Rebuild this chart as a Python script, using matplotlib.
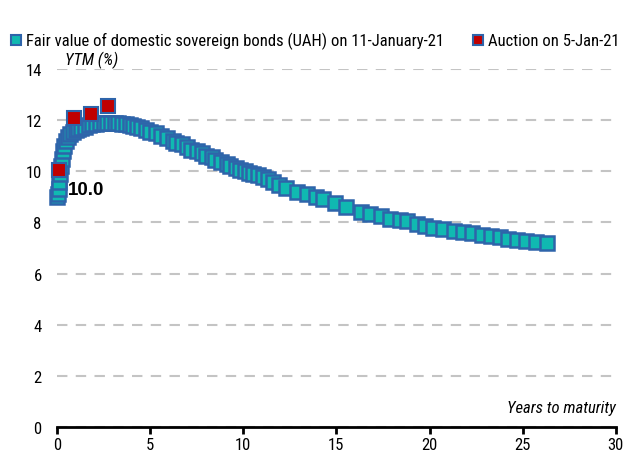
import matplotlib.pyplot as plt
from matplotlib.lines import Line2D

# fair value curve (years to maturity, YTM %)
fair_x = [0.02, 0.05, 0.08, 0.12, 0.16, 0.2, 0.25, 0.3, 0.4, 0.5, 0.6, 0.7, 0.85, 1.0,
          1.15, 1.3, 1.5, 1.7, 1.9, 2.1, 2.3, 2.5, 2.7, 2.9, 3.1, 3.3, 3.5, 3.7, 3.9,
          4.1, 4.3, 4.5, 4.8, 5.0, 5.3, 5.6, 5.9, 6.2, 6.4, 6.7, 7.0, 7.2, 7.5, 7.8,
          8.0, 8.3, 8.5, 8.8, 9.1, 9.3, 9.6, 9.8, 10.1, 10.3, 10.5, 10.8, 11.05, 11.3,
          11.6, 11.9, 12.3, 12.9, 13.4, 13.9, 14.3, 14.9, 15.5, 16.3, 16.8, 17.4, 17.9,
          18.4, 18.8, 19.3, 19.75, 20.2, 20.7, 21.3, 21.8, 22.3, 22.8, 23.3, 23.8, 24.2,
          24.7, 25.2, 25.7, 26.3]
fair_y = [9.0, 9.1, 9.3, 9.6, 9.9, 10.2, 10.5, 10.8, 11.0, 11.2, 11.35, 11.45, 11.55, 11.6,
          11.65, 11.7, 11.75, 11.8, 11.85, 11.87, 11.88, 11.9, 11.9, 11.9, 11.9, 11.88,
          11.86, 11.84, 11.8, 11.77, 11.74, 11.7, 11.6, 11.55, 11.5, 11.4, 11.3, 11.2,
          11.1, 11.05, 10.95, 10.85, 10.8, 10.7, 10.6, 10.55, 10.45, 10.35, 10.28, 10.2,
          10.12, 10.07, 10.0, 9.95, 9.9, 9.85, 9.78, 9.72, 9.6, 9.45, 9.35, 9.2, 9.1, 9.0,
          8.92, 8.75, 8.6, 8.4, 8.35, 8.25, 8.15, 8.1, 8.05, 7.95, 7.86, 7.8, 7.75, 7.67,
          7.62, 7.58, 7.5, 7.47, 7.43, 7.36, 7.32, 7.27, 7.24, 7.2]

# auction 5-Jan-21
auction_x = [0.12, 0.93, 1.83, 2.75]
auction_y = [10.06, 12.07, 12.23, 12.57]

TEAL = "#10B9B1"
BLUE = "#2E64AA"
RED = "#C00000"

plt.rcParams['font.family'] = ['Roboto Condensed', 'DejaVu Sans']

fig = plt.figure(figsize=(6.35, 4.52), dpi=100)
ax = fig.add_axes([0.0898, 0.053, 0.880, 0.792])

ax.plot(fair_x, fair_y, linestyle="none", marker="s", markersize=9.6,
        markerfacecolor=TEAL, markeredgecolor=BLUE, markeredgewidth=1.8, clip_on=False)
ax.plot(auction_x, auction_y, linestyle="none", marker="s", markersize=10.2,
        markerfacecolor=RED, markeredgecolor=BLUE, markeredgewidth=1.5, clip_on=False)

ax.text(0.6, 9.3, "10.0", fontsize=13.5, fontweight="bold", va="center", ha="left",
        family=['Liberation Sans', 'DejaVu Sans'])

ax.set_xlim(0, 30)
ax.set_ylim(0, 14)
ax.set_xticks(range(0, 31, 5))
ax.set_yticks(range(0, 15, 2))
ax.grid(axis="y", color="#C4C4C4", linestyle=(0, (5, 4)), linewidth=1.5)
ax.set_axisbelow(True)
for s in ["top", "right", "left"]:
    ax.spines[s].set_visible(False)
ax.spines["bottom"].set_linewidth(2)
ax.tick_params(axis="x", direction="out", length=5, width=2, labelsize=12, pad=2)
ax.tick_params(axis="y", length=0, labelsize=12, pad=11)

ax.text(0.015, 1.027, "YTM (%)", transform=ax.transAxes, fontsize=12, style="italic",
        ha="left", va="center")
ax.text(1.0, 0.055, "Years to maturity", transform=ax.transAxes, fontsize=12,
        style="italic", ha="right", va="center")

handles = [
    Line2D([], [], linestyle="none", marker="s", markersize=7, markerfacecolor=TEAL,
           markeredgecolor=BLUE, markeredgewidth=1.5),
    Line2D([], [], linestyle="none", marker="s", markersize=7, markerfacecolor=RED,
           markeredgecolor=BLUE, markeredgewidth=1.5),
]
labels = ["Fair value of domestic sovereign bonds (UAH) on 11-January-21",
          "Auction on 5-Jan-21"]
fig.legend(handles, labels, loc="center left", bbox_to_anchor=(0.015, 0.908), ncol=2,
           frameon=False, fontsize=12, handlelength=0.8, handletextpad=0.2,
           columnspacing=1.6, borderaxespad=0, borderpad=0)

fig.savefig("out.png", dpi=100)
